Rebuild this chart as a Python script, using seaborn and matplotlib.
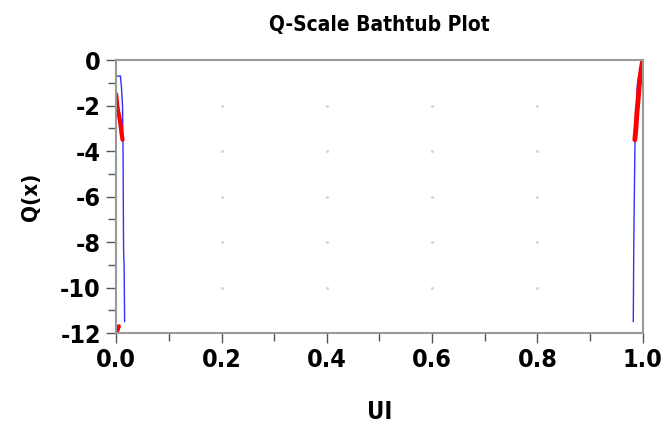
import matplotlib
matplotlib.use('Agg')
import matplotlib.pyplot as plt
import numpy as np
import pandas as pd
import seaborn as sns

# blue bathtub curve, left edge
blue_left_ui = [0.000, 0.004, 0.008, 0.010, 0.012, 0.013, 0.014, 0.015, 0.016]
blue_left_q = [-0.7, -0.7, -0.7, -1.2, -2.0, -4.0, -8.3, -9.0, -11.5]
# blue bathtub curve, right edge
blue_right_ui = [0.982, 0.983, 0.984, 0.985, 0.986, 0.988, 0.990, 0.993, 0.995]
blue_right_q = [-11.5, -8.0, -6.0, -4.0, -3.0, -2.0, -1.0, -0.6, -0.5]
# red measured points
red_left_ui = [0.000, 0.002, 0.004, 0.006, 0.008, 0.010, 0.012]
red_left_q = [-1.5, -2.0, -2.3, -2.5, -2.8, -3.2, -3.5]
red_low_ui = [0.000, 0.002, 0.005]
red_low_q = [-12.0, -11.9, -11.7]
red_right_ui = [0.985, 0.987, 0.989, 0.991, 0.993, 0.995, 0.997, 1.000]
red_right_q = [-3.5, -3.0, -2.3, -1.8, -1.2, -0.8, -0.4, 0.0]

xticks = [0.0, 0.2, 0.4, 0.6, 0.8, 1.0]
yticks = [0, -2, -4, -6, -8, -10, -12]

sns.set_style('white')
plt.rcParams['font.family'] = ['DejaVu Sans']
plt.rcParams['font.stretch'] = 'condensed'
plt.rcParams['text.color'] = 'black'
plt.rcParams['axes.labelcolor'] = 'black'
plt.rcParams['xtick.color'] = 'black'
plt.rcParams['ytick.color'] = 'black'

fig = plt.figure(figsize=(6.64, 4.36), dpi=100)
ax = fig.add_axes([0.175, 0.236, 0.793, 0.626])

# faint grid dots at the major tick intersections
gx, gy = np.meshgrid(xticks[1:-1], yticks[1:-1])
ax.plot(gx.ravel(), gy.ravel(), ls='none', marker='s', ms=1.1, color='#d8d8d8', zorder=0)

kw = dict(ax=ax, sort=False, estimator=None)
sns.lineplot(x=blue_left_ui, y=blue_left_q, color='#3030ff', lw=1, **kw)
sns.lineplot(x=blue_right_ui, y=blue_right_q, color='#3030ff', lw=1, **kw)
sns.lineplot(x=red_left_ui, y=red_left_q, color='#ff0000', lw=3, **kw)
sns.lineplot(x=red_low_ui, y=red_low_q, color='#ff0000', lw=3, **kw)
sns.lineplot(x=red_right_ui, y=red_right_q, color='#ff0000', lw=3.5, **kw)

ax.set_xlim(0, 1)
ax.set_ylim(-12, 0)
ax.set_xticks(xticks)
ax.set_yticks(yticks)
ax.set_xticks(np.arange(0.1, 1.0, 0.2), minor=True)
ax.set_yticks(np.arange(-11, 0, 2), minor=True)
ax.set_xticklabels(['%.1f' % t for t in xticks], fontsize=18, fontweight='bold')
ax.set_yticklabels([str(t) for t in yticks], fontsize=18, fontweight='bold')
ax.tick_params(which='both', direction='out', length=7, width=1, color='#555555',
               bottom=True, left=True, pad=4)
ax.tick_params(which='minor', length=6)

for s in ax.spines.values():
    s.set_color('#999999')
    s.set_linewidth(1.5)

ax.set_title('Q-Scale Bathtub Plot', fontsize=15, fontweight='bold', pad=21)
ax.set_xlabel('UI', fontsize=17, fontweight='bold', labelpad=20)
ax.set_ylabel('Q(x)', fontsize=16, fontweight='bold', labelpad=14)

fig.savefig('out.png', dpi=100)
